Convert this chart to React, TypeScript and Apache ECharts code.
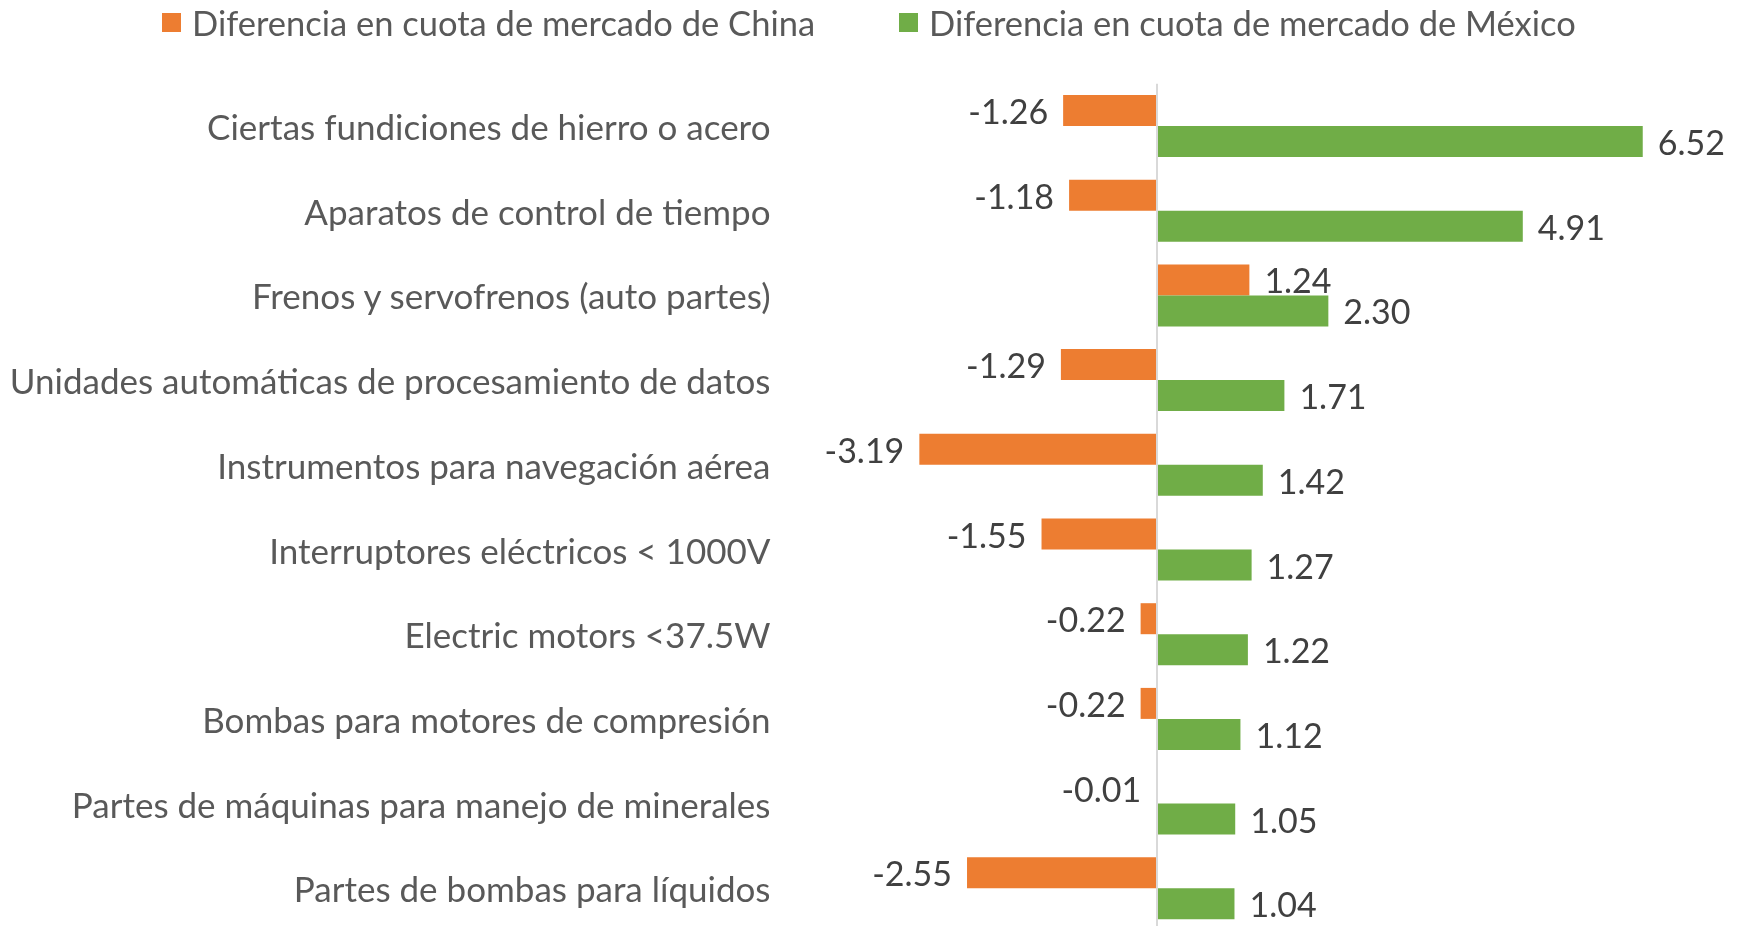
import React, { useEffect, useRef } from "react";
import * as echarts from "echarts";

const categories = [
  "Ciertas fundiciones de hierro o acero",
  "Aparatos de control de tiempo",
  "Frenos y servofrenos (auto partes)",
  "Unidades automáticas de procesamiento de datos",
  "Instrumentos para navegación aérea",
  "Interruptores eléctricos < 1000V",
  "Electric motors <37.5W",
  "Bombas para motores de compresión",
  "Partes de máquinas para manejo de minerales",
  "Partes de bombas para líquidos",
];
const chinaValues = [-1.26, -1.18, 1.24, -1.29, -3.19, -1.55, -0.22, -0.22, -0.01, -2.55];
const mexicoValues = [6.52, 4.91, 2.3, 1.71, 1.42, 1.27, 1.22, 1.12, 1.05, 1.04];
const seriesNames = [
  "Diferencia en cuota de mercado de China",
  "Diferencia en cuota de mercado de México",
];

const FONT = "Lato";

export default function App() {
  const ref = useRef<HTMLDivElement>(null);
  useEffect(() => {
    if (!ref.current) return;
    const chart = echarts.init(ref.current, undefined, { renderer: "svg" });
    const label = {
      show: true,
      position: "outside",
      distance: 15,
      color: "#404040",
      fontSize: 34,
      fontFamily: FONT,
      formatter: (p: any) => Number(p.value).toFixed(2),
    };
    const legendBase = {
      top: 0,
      itemWidth: 19,
      itemHeight: 19,
      icon: "rect",
      textStyle: { color: "#595959", fontSize: 34.5, fontFamily: FONT, padding: [0, 0, 0, 6] },
    };
    chart.setOption({
      animation: false,
      textStyle: { fontFamily: FONT },
      legend: [
        { ...legendBase, left: 157, data: [seriesNames[0]] },
        { ...legendBase, left: 894, data: [seriesNames[1]] },
      ],
      grid: { left: 784.5, right: 61.5, top: 83.65, bottom: 9.35, containLabel: false },
      xAxis: {
        type: "value",
        min: -5,
        max: 7,
        show: false,
      },
      yAxis: {
        type: "category",
        data: categories,
        inverse: true,
        axisLine: { show: false },
        axisTick: { show: false },
        splitLine: { show: false },
        axisLabel: {
          color: "#595959",
          fontSize: 35,
          fontFamily: FONT,
          margin: 14,
          padding: [0, 0, 9, 0],
        },
      },
      series: [
        {
          name: seriesNames[0],
          type: "bar",
          data: chinaValues,
          barWidth: 31,
          barGap: "0%",
          itemStyle: { color: "#ED7D31" },
          label,
          markLine: {
            silent: true,
            symbol: "none",
            label: { show: false },
            lineStyle: { color: "#d9d9d9", width: 2, type: "solid" },
            data: [{ xAxis: 0 }],
          },
        },
        {
          name: seriesNames[1],
          type: "bar",
          data: mexicoValues,
          barWidth: 31,
          barGap: "0%",
          itemStyle: { color: "#70AD47" },
          label,
        },
      ],
    });
    return () => chart.dispose();
  }, []);
  return (
    <div
      ref={ref}
      style={{ position: "fixed", left: 0, top: 0, width: 1740, height: 940 }}
    />
  );
}
